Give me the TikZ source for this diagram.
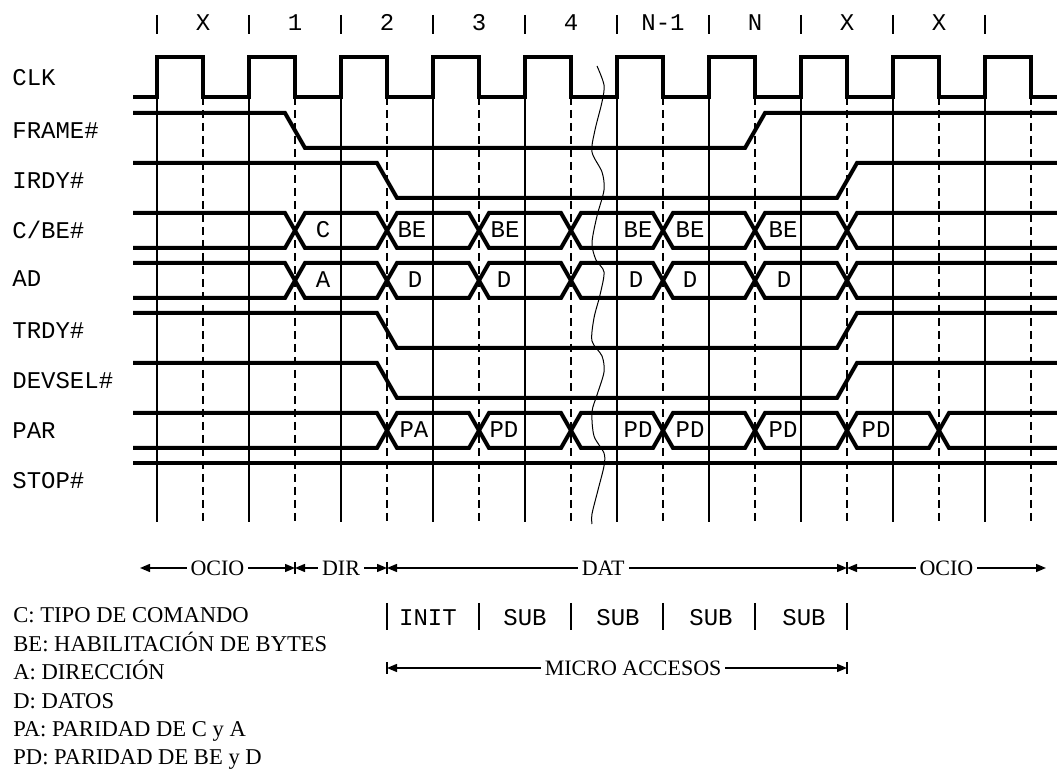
\documentclass[tikz,border=0pt]{standalone}
\usepackage{fontspec}
\setmainfont{Liberation Serif}
\setmonofont{Liberation Mono}
\usetikzlibrary{arrows.meta}

\newcommand\level[4]{\draw[sig] (133,#1) -- (#3-10,#1) -- (#3+10,#2) -- (#4-10,#2) -- (#4+10,#1) -- (1057,#1);}
\newcommand\bus[3]{%
  \foreach \ya/\yb in {#1/#2,#2/#1}
    \draw[sig] (133,\ya) \foreach \c [count=\i] in {#3}
      { -- (\c-10,{ifthenelse(isodd(\i),\ya,\yb)}) -- (\c+10,{ifthenelse(isodd(\i),\yb,\ya)}) }
      coordinate (busend) -- (busend -| rim);}

\begin{document}
\begin{tikzpicture}[x=0.5pt,y=-0.5pt,
  sig/.style={line width=2pt},
  gridline/.style={line width=0.9pt},
  halfline/.style={line width=0.9pt,dash pattern=on 4pt off 2.5pt},
  lbl/.style={font=\ttfamily\fontsize{12}{14}\selectfont,inner sep=0pt,anchor=base},
  txt/.style={font=\fontsize{11.3}{13}\selectfont,inner sep=0pt,anchor=base west},
  span/.style={line width=0.7pt,>={Triangle[length=5pt,width=4pt]},<->},
  spantxt/.style={font=\fontsize{11}{13}\selectfont,fill=white,inner sep=2pt}]
\useasboundingbox (0,0) rectangle (1057,769);
\coordinate (rim) at (1057,0);

\foreach \k in {0,...,9} {
  \draw[gridline] (157+92*\k,15) -- (157+92*\k,34);
  \draw[gridline] (157+92*\k,97) -- (157+92*\k,522);
  \draw[halfline] (203+92*\k,97) -- (203+92*\k,522);
}
\foreach \t [count=\k from 0] in {X,1,2,3,4,N-1,N,X,X}
  \node[lbl] at (203+92*\k,31) {\t};

\foreach \s/\y in {CLK/86,FRAME\#/139,IRDY\#/189,{C/BE\#}/239,AD/287,TRDY\#/339,DEVSEL\#/389,PAR/439,STOP\#/489}
  \node[lbl,anchor=base west] at (12,\y) {\s};

\draw[sig] (133,97) \foreach \k in {0,...,9} { -- (157+92*\k,97) -- (157+92*\k,57) -- (203+92*\k,57) -- (203+92*\k,97) } -- (1057,97);
\level{113}{148}{295}{755}
\level{163}{198}{387}{847}
\bus{213}{248}{295,387,479,571,663,755,847}
\bus{263}{298}{295,387,479,571,663,755,847}
\level{313}{348}{387}{847}
\level{363}{398}{387}{847}
\bus{413}{448}{387,479,571,663,755,847,939}
\draw[sig] (133,463) -- (1057,463);

\foreach \x/\t in {323/C,412/BE,505/BE,638/BE,690/BE,783/BE} \node[lbl] at (\x,238) {\t};
\foreach \x/\t in {323/A,415/D,504/D,636/D,690/D,784/D} \node[lbl] at (\x,288) {\t};
\foreach \x/\t in {414/PA,504/PD,638/PD,690/PD,783/PD,876/PD} \node[lbl] at (\x,438) {\t};

\draw[line width=0.5pt] plot[smooth] coordinates {(597,66) (604,85) (602,102) (595,130) (592,152) (602,172) (604,190) (597,216) (592,243) (596,260) (604,272) (600,295) (594,318) (592,341) (602,356) (604,372) (597,395) (592,412) (594,436) (604,453) (604,466) (598,490) (592,514) (592,524)};

\coordinate (ocio1) at (140,568);
\coordinate (dir) at (295,568);
\coordinate (dat) at (387,568);
\coordinate (ocio2) at (847,568);
\coordinate (fin) at (1046,568);
\draw[span] (ocio1) -- node[spantxt] {OCIO} (dir);
\draw[span] (dir) -- node[spantxt] {DIR} (dat);
\draw[span] (dat) -- node[spantxt,pos=.47] {DAT} (ocio2);
\draw[span] (ocio2) -- node[spantxt] {OCIO} (fin);
\foreach \c in {dir,dat,ocio2} \draw[line width=0.8pt] (\c) ++(0,-6) -- ++(0,12);

\foreach \k in {2,...,7} \draw[gridline] (203+92*\k,603) -- (203+92*\k,630);
\foreach \x/\t in {428/INIT,525/SUB,618/SUB,711/SUB,804/SUB} \node[lbl] at (\x,626) {\t};

\coordinate (ma) at (387,668);
\coordinate (mb) at (847,668);
\draw[span] (ma) -- node[spantxt,pos=.535] {MICRO ACCESOS} (mb);
\foreach \c in {ma,mb} \draw[line width=0.8pt] (\c) ++(0,-6) -- ++(0,12);

\foreach \t [count=\i from 0] in {C: TIPO DE COMANDO, BE: HABILITACIÓN DE BYTES, A: DIRECCIÓN, D: DATOS, PA: PARIDAD DE C y A, PD: PARIDAD DE BE y D}
  \node[txt] at (13,623+28.4*\i) {\t};
\end{tikzpicture}
\end{document}
